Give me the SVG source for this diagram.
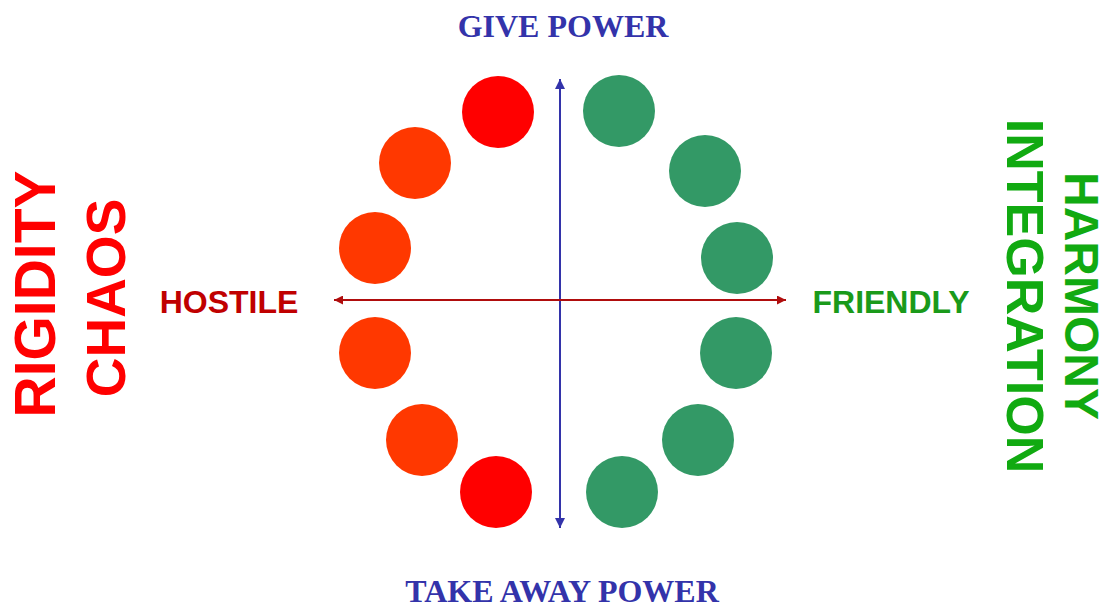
<svg xmlns="http://www.w3.org/2000/svg" width="1109" height="612" viewBox="0 0 1109 612">
<style>
.serif{font-family:"Liberation Serif","Times New Roman",serif;font-weight:bold;fill:#3333aa;font-size:32px;text-anchor:middle}
.sans{font-family:"Liberation Sans",Arial,sans-serif;font-weight:bold}
.red{fill:#ff0000}
.orange{fill:#ff3800}
.green{fill:#339966}
</style>
<defs>
<marker id="ab" viewBox="0 0 10 10" refX="10" refY="5" markerWidth="12" markerHeight="10" markerUnits="userSpaceOnUse" orient="auto-start-reverse"><path d="M0,0 L10,5 L0,10 Z" fill="#3333aa"/></marker>
<marker id="ar" viewBox="0 0 10 10" refX="10" refY="5" markerWidth="11" markerHeight="9" markerUnits="userSpaceOnUse" orient="auto-start-reverse"><path d="M0,0 L10,5 L0,10 Z" fill="#b00d0d"/></marker>
</defs>
<rect width="1109" height="612" fill="#ffffff"/>
<g id="connectors">
<line x1="560" y1="79" x2="560" y2="528" stroke="#3333aa" stroke-width="2" marker-start="url(#ab)" marker-end="url(#ab)"/>
<line x1="334" y1="300" x2="786" y2="300" stroke="#b00d0d" stroke-width="2" marker-start="url(#ar)" marker-end="url(#ar)"/>
</g>
<g id="c1"><circle class="red" cx="498" cy="112" r="36"/></g>
<g id="c2"><circle class="orange" cx="415" cy="163" r="36"/></g>
<g id="c3"><circle class="orange" cx="375" cy="248" r="36"/></g>
<g id="c4"><circle class="orange" cx="375" cy="353" r="36"/></g>
<g id="c5"><circle class="orange" cx="422" cy="440" r="36"/></g>
<g id="c6"><circle class="red" cx="496" cy="492" r="36"/></g>
<g id="c7"><circle class="green" cx="619" cy="111" r="36"/></g>
<g id="c8"><circle class="green" cx="705" cy="171" r="36"/></g>
<g id="c9"><circle class="green" cx="737" cy="258" r="36"/></g>
<g id="c10"><circle class="green" cx="736" cy="353" r="36"/></g>
<g id="c11"><circle class="green" cx="698" cy="440" r="36"/></g>
<g id="c12"><circle class="green" cx="622" cy="492" r="36"/></g>
<g id="give"><text class="serif" x="563" y="37">GIVE POWER</text></g>
<g id="take"><text class="serif" x="562" y="602" font-size="33">TAKE AWAY POWER</text></g>
<g id="hostile"><text class="sans" x="229" y="313" font-size="32" fill="#c00000" text-anchor="middle">HOSTILE</text></g>
<g id="friendly"><text class="sans" x="891" y="313" font-size="32" fill="#1a9a1a" text-anchor="middle">FRIENDLY</text></g>
<g id="rigidity"><text class="sans" transform="translate(55,294) rotate(-90)" x="0" y="0" font-size="57" fill="#ff0000" text-anchor="middle">RIGIDITY</text></g>
<g id="chaos"><text class="sans" transform="translate(125,298) rotate(-90)" x="0" y="0" font-size="55" fill="#ff0000" text-anchor="middle">CHAOS</text></g>
<g id="integration"><text class="sans" transform="translate(1007,296) rotate(90)" x="0" y="0" font-size="52" fill="#11aa11" text-anchor="middle">INTEGRATION</text></g>
<g id="harmony"><text class="sans" transform="translate(1065,296) rotate(90)" x="0" y="0" font-size="48" fill="#11aa11" text-anchor="middle">HARMONY</text></g>
</svg>
